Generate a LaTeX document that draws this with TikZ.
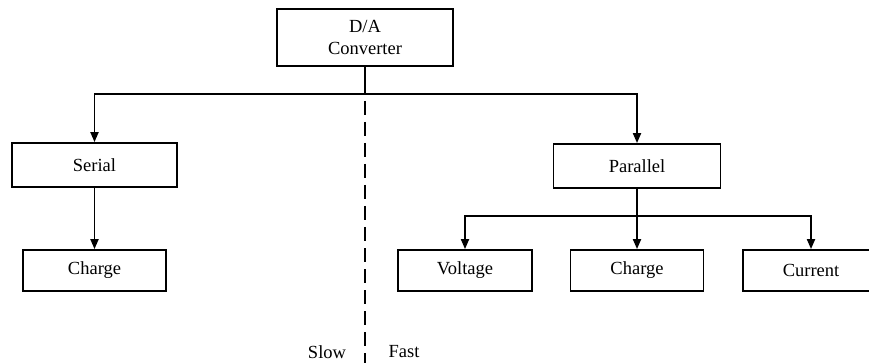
\documentclass[tikz,border=0pt]{standalone}
\usepackage{fontspec}
\setmainfont{Liberation Serif}
\usetikzlibrary{arrows.meta,positioning}

\begin{document}
\begin{tikzpicture}[x=1pt,y=-1pt,>={Triangle[length=10pt,width=8pt]},
    box/.style={draw,line width=1.8pt,inner sep=0pt,align=center,
                font=\fontsize{18.5}{22}\selectfont},
    link/.style={line width=1.9pt}]
  \useasboundingbox (0,0) rectangle (869,363);
  \node[box,minimum width=176pt,minimum height=57pt] (converter) at (365,37.5)
        {D/A\\Converter};
  \node[box,minimum width=165pt,minimum height=44pt] (serial) at (94.5,165)
        {Serial};
  \node[box,minimum width=143pt,minimum height=41pt] (serialcharge) at (94.5,270.5)
        {Charge};
  \node[box,minimum width=167pt,minimum height=44pt] (parallel) at (637,166)
        {Parallel};
  \node[box,minimum width=134pt,minimum height=41pt] (voltage) at (465,270.5)
        {Voltage};
  \node[box,minimum width=133pt,minimum height=41pt] (parcharge) at (637,270.5)
        {Charge};
  \node[box,minimum width=136pt,minimum height=41pt] (current) at (811,270.5)
        {Current};
  \coordinate (topbar) at (365,94);
  \coordinate (lowbar) at (637,216);
  \draw[link] (converter) -- (topbar);
  \draw[link,->] (topbar) -| (serial);
  \draw[link,->] (topbar) -| (parallel);
  \draw[link,->] (serial) -- (serialcharge);
  \draw[link] (parallel) -- (lowbar);
  \draw[link,->] (lowbar) -| (voltage);
  \draw[link,->] (lowbar) -- (parcharge);
  \draw[link,->] (lowbar) -| (current);
  % speed divide
  \coordinate (divtop) at (365,101);
  \coordinate (divbot) at (365,363);
  \draw[link,dash pattern=on 14pt off 7pt] (divtop) -- (divbot);
  \node[font=\fontsize{18.5}{22}\selectfont] (slow) at (327,352) {Slow};
  \node[font=\fontsize{18.5}{22}\selectfont] (fast) at (404,352) {Fast};
\end{tikzpicture}
\end{document}
